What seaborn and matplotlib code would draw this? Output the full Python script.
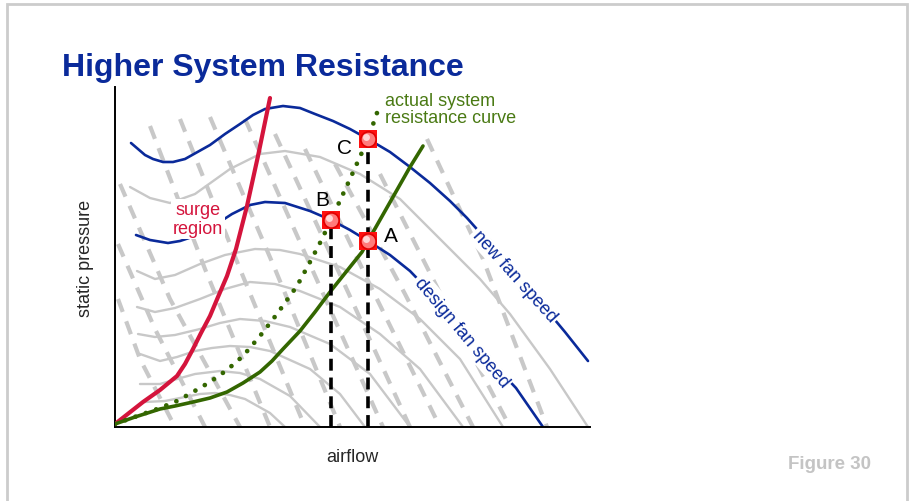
import matplotlib
matplotlib.use("Agg")
import matplotlib.pyplot as plt
import seaborn as sns
from matplotlib.patches import Rectangle

# --- data (airflow, static pressure in drawing units) ---
new_fan_x = [16, 30, 38, 48, 58, 70, 95, 110, 125, 138, 150, 168, 185, 200, 218,
             235, 253, 275, 295, 315, 335, 352, 400, 450, 473]
new_fan_y = [284, 272, 268, 265, 265, 268, 282, 293, 303, 312, 318, 321, 319, 313, 306,
             298, 288, 275, 260, 244, 226, 209, 155, 95, 66]

design_fan_x = [21, 35, 53, 65, 80, 100, 117, 135, 150, 170, 195, 216, 235, 253, 275,
                295, 320, 345, 401, 428]
design_fan_y = [192, 187, 184, 186, 191, 202, 213, 222, 225, 224, 216, 207, 197, 186, 172,
                156, 130, 98, 39, 0]

surge_x = [0, 28, 45, 62, 70, 78, 86, 95, 103, 112, 121, 132, 143, 155]
surge_y = [3, 25, 37, 51, 63, 78, 94, 111, 130, 151, 178, 221, 271, 329]

design_sys_x = [0, 20, 45, 60, 78, 95, 112, 128, 145, 157, 168, 185, 200, 215, 231,
                247, 253, 274, 295, 308]
design_sys_y = [3, 10, 18, 21, 25, 29, 35, 44, 55, 66, 78, 96, 115, 135, 155,
                175, 186, 223, 260, 281]

actual_sys_x = [0, 28, 45, 62, 78, 95, 112, 128, 145, 162, 182, 195, 206, 216, 235, 253, 263]
actual_sys_y = [3, 13, 19, 26, 35, 45, 57, 71, 91, 113, 141, 165, 186, 207, 248, 288, 317]

# operating points
pt_labels = ["A", "B", "C"]
pt_x = [253, 216, 253]
pt_y = [186, 207, 288]

# background fan curves at other speeds (gray solid)
gray_fans = [
    ([15, 35, 55, 80, 115, 145, 170, 205, 245, 285, 325, 365, 395, 435, 473],
     [240, 229, 224, 233, 258, 273, 276, 270, 253, 228, 188, 148, 113, 58, 0]),
    ([22, 40, 60, 85, 110, 140, 165, 185, 225, 265, 305, 345, 388],
     [156, 148, 152, 163, 172, 178, 177, 173, 160, 138, 108, 68, 0]),
    ([22, 40, 60, 85, 110, 135, 160, 185, 225, 265, 305, 348],
     [120, 115, 119, 128, 138, 145, 143, 136, 120, 93, 58, 0]),
    ([23, 40, 60, 85, 105, 125, 150, 175, 215, 255, 295],
     [93, 90, 92, 98, 104, 108, 106, 100, 83, 53, 0]),
    ([25, 45, 62, 80, 97, 115, 135, 155, 195, 225, 250],
     [73, 66, 70, 76, 79, 81, 80, 76, 58, 33, 0]),
    ([25, 45, 62, 80, 105, 125, 145, 175, 205],
     [43, 43, 48, 53, 56, 54, 48, 31, 0]),
    ([30, 50, 70, 85, 100, 115, 130, 155, 170],
     [25, 26, 30, 33, 34, 32, 28, 14, 0]),
]

# background curves (gray dashed)
gray_dashed = [
    ([3, 25, 60], [128, 68, 0]),
    ([3, 40, 90], [183, 98, 0]),
    ([5, 55, 125], [243, 128, 0]),
    ([35, 90, 155], [301, 158, 0]),
    ([65, 125, 190], [308, 158, 0]),
    ([95, 160, 225], [310, 158, 0]),
    ([130, 197, 268], [308, 158, 0]),
    ([160, 227, 295], [293, 148, 0]),
    ([190, 257, 325], [278, 138, 0]),
    ([220, 290, 358], [263, 133, 0]),
    ([265, 328, 395], [253, 128, 0]),
    ([312, 368, 432], [288, 168, 0]),
]

sns.set_style("white")
narrow = ["Liberation Sans Narrow", "Liberation Sans", "DejaVu Sans"]
plt.rcParams["font.family"] = ["Liberation Sans", "DejaVu Sans"]

W, H = 909, 502
fig = plt.figure(figsize=(W / 100, H / 100), dpi=100)
ax = fig.add_axes([115 / W, 1 - 428 / H, 475 / W, 340 / H])

gray = "#c8c8c8"
blue = "#0a2a9a"
for gx, gy in gray_dashed:
    sns.lineplot(x=gx, y=gy, sort=False, estimator=None, ax=ax, color=gray,
                 linewidth=3, linestyle=(0, (3.3, 2.4)), zorder=1)
for gx, gy in gray_fans:
    sns.lineplot(x=gx, y=gy, sort=False, estimator=None, ax=ax, color=gray,
                 linewidth=1.7, zorder=1.5)

sns.lineplot(x=new_fan_x, y=new_fan_y, sort=False, estimator=None, ax=ax,
             color=blue, linewidth=1.9, zorder=2)
sns.lineplot(x=design_fan_x, y=design_fan_y, sort=False, estimator=None, ax=ax,
             color=blue, linewidth=1.9, zorder=2)
sns.lineplot(x=surge_x, y=surge_y, sort=False, estimator=None, ax=ax,
             color="#d4143c", linewidth=3, zorder=3)
sns.lineplot(x=design_sys_x, y=design_sys_y, sort=False, estimator=None, ax=ax,
             color="#336600", linewidth=2.6, zorder=3)
sns.lineplot(x=actual_sys_x, y=actual_sys_y, sort=False, estimator=None, ax=ax,
             color="#336600", linewidth=3.4, linestyle=(0, (0.01, 2.3)),
             dash_capstyle="round", zorder=3)

# drop lines from B and C to the airflow axis
for i in [1, 2]:
    ax.plot([pt_x[i], pt_x[i]], [0, pt_y[i]], color="black", linewidth=2.6,
            linestyle=(0, (3.3, 1.9)), zorder=3.5)

# operating point markers
ax.scatter(pt_x, pt_y, marker="s", s=150, color="#ff1010", zorder=6, linewidths=0)
ax.scatter(pt_x, pt_y, marker="o", s=120, color="#ff7b7b", edgecolors="#e00000",
           linewidths=1.2, zorder=7)
ax.scatter([x - 2 for x in pt_x], [y + 2 for y in pt_y], marker="o", s=25,
           color="#ffd6d6", linewidths=0, zorder=8)

txt = dict(fontsize=15, color="black", ha="center", va="center", zorder=9)
ax.text(276, 191, pt_labels[0], **txt)
ax.text(207, 228, pt_labels[1], **txt)
ax.text(230, 280, pt_labels[2], **txt)

box = dict(facecolor="white", edgecolor="none", pad=1.5)
ax.text(270, 318, "actual system\nresistance curve", family=narrow, fontsize=13,
        color="#4a7a14", ha="left", va="center", linespacing=1.0, zorder=9)
ax.text(83, 208, "surge\nregion", family=narrow, fontsize=13, color="#d4143c",
        ha="center", va="center", linespacing=1.1, bbox=box, zorder=2.5)
ax.text(400, 151, "new fan speed", family=narrow, fontsize=13, color=blue,
        ha="center", va="center", rotation=-48, rotation_mode="anchor",
        bbox=box, zorder=2.5)
ax.text(347, 95, "design fan speed", family=narrow, fontsize=13, color=blue,
        ha="center", va="center", rotation=-50, rotation_mode="anchor",
        bbox=box, zorder=2.5)

ax.set_xlim(0, 475)
ax.set_ylim(0, 340)
ax.set_xticks([])
ax.set_yticks([])
ax.set_xlabel("")
ax.set_ylabel("")
for side in ["top", "right"]:
    ax.spines[side].set_visible(False)
for side in ["left", "bottom"]:
    ax.spines[side].set_color("black")
    ax.spines[side].set_linewidth(1.4)
ax.patch.set_alpha(0)

fig.text(85 / W, 1 - 258 / H, "static pressure", family=narrow, fontsize=13,
         rotation=90, ha="center", va="center")
fig.text(352 / W, 1 - 458 / H, "airflow", family=narrow, fontsize=13,
         ha="center", va="center")
fig.text(62 / W, 1 - 76 / H, "Higher System Resistance", fontsize=23,
         fontweight="bold", color="#0a2a9a", ha="left", va="baseline")
fig.text(829 / W, 1 - 465 / H, "Figure 30", fontsize=13.5, fontweight="bold",
         color="#c4c4c4", ha="center", va="center")

fig.add_artist(Rectangle((7 / W, -0.05), 900 / W, 1.05 - 5 / H,
                         transform=fig.transFigure, fill=False,
                         edgecolor="#cccccc", linewidth=2))

fig.savefig("out.png", dpi=100)
